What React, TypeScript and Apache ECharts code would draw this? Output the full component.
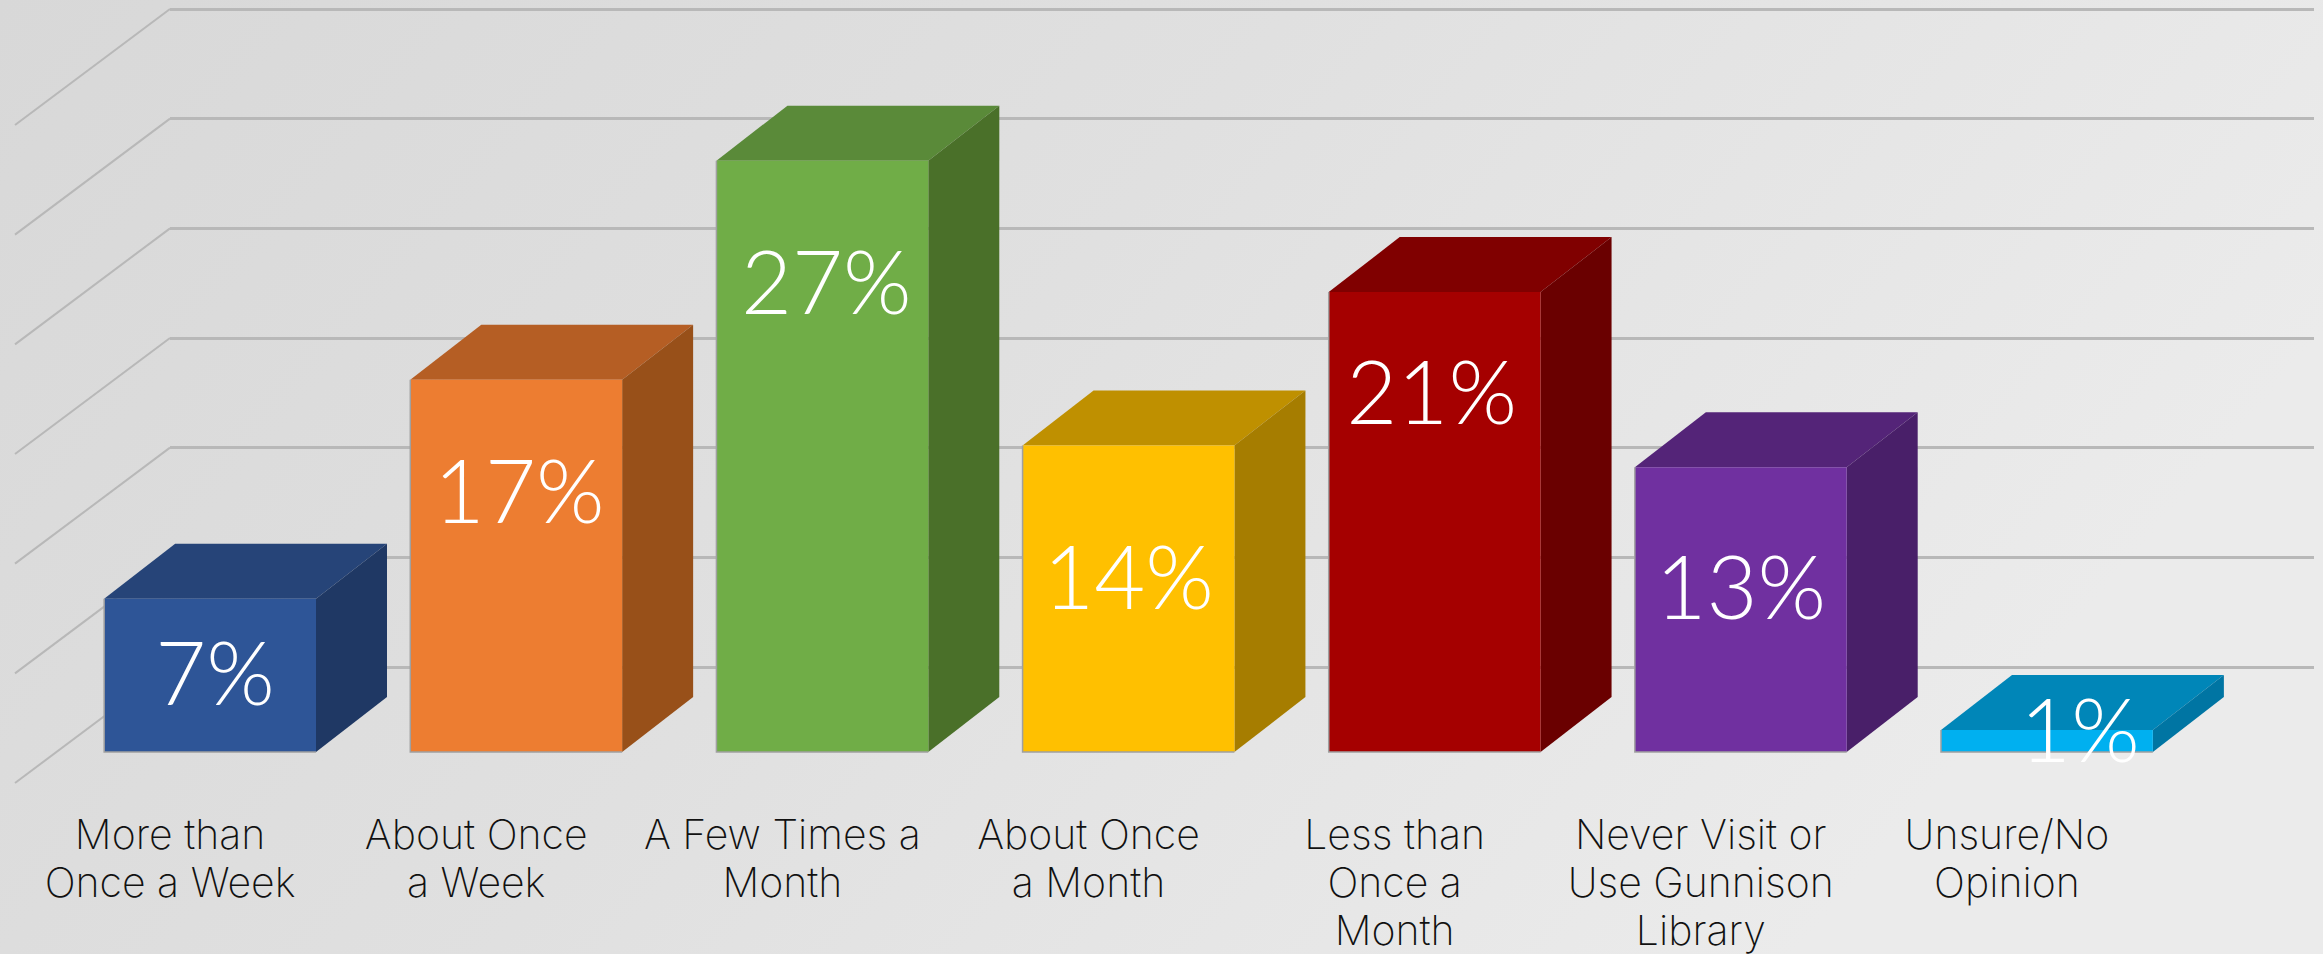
import React, { useEffect, useRef } from "react";
import * as echarts from "echarts";

const categories = [
  "More than\nOnce a Week",
  "About Once\na Week",
  "A Few Times a\nMonth",
  "About Once\na Month",
  "Less than\nOnce a\nMonth",
  "Never Visit or\nUse Gunnison\nLibrary",
  "Unsure/No\nOpinion",
];
const values = [7, 17, 27, 14, 21, 13, 1];
const wallTicks = [0, 5, 10, 15, 20, 25, 30];

const frontColors = ["#2e5597", "#ed7d31", "#70ad47", "#ffc000", "#a50000", "#7030a0", "#00b0f0"];
const topColors = ["#264478", "#b55e24", "#5a8a39", "#bf9000", "#800000", "#542478", "#0086b8"];
const sideColors = ["#1f3864", "#985019", "#4a7029", "#a67d00", "#6a0000", "#491f69", "#0075a3"];

// Label placement: px below the bar's top, and px right of the front face's centre.
const labelDrop = [72, 109, 119, 130, 98, 118, -2];
const labelShift = [5, 3, 4, 0, -3, 0, 33];

const FONT = "Lato";
const AXIS_FONT = "Inter";
const DEPTH_X = 71;
const DEPTH_Y = 55;
const FACE_SHIFT = 40;
const WALL_DX = 155;
const WALL_DY = 116;

export default function App() {
  const ref = useRef<HTMLDivElement>(null);
  useEffect(() => {
    document.body.style.margin = "0";
    const chart = echarts.init(ref.current!, undefined, { renderer: "svg" });
    chart.setOption({
      animation: false,
      backgroundColor: {
        type: "linear",
        x: 0,
        y: 0,
        x2: 1,
        y2: 0.35,
        colorStops: [
          { offset: 0, color: "#d8d8d8" },
          { offset: 0.5, color: "#e0e0e0" },
          { offset: 1, color: "#ebebeb" },
        ],
      },
      grid: [
        { left: 170, top: 9, width: 2144, height: 658 },
        { left: 17, top: 95, width: 2143, height: 658 },
      ],
      xAxis: [
        { gridIndex: 0, type: "value", min: 0, max: 1, show: false },
        {
          gridIndex: 1,
          type: "category",
          data: categories,
          axisLine: { show: false },
          axisTick: { show: false },
          axisLabel: {
            interval: 0,
            margin: 58,
            color: "#111111",
            fontFamily: AXIS_FONT,
            fontWeight: 200,
            fontSize: 41,
            lineHeight: 48,
            verticalAlign: "top",
          },
        },
      ],
      yAxis: [
        {
          gridIndex: 0,
          type: "value",
          min: 0,
          max: 30,
          interval: 5,
          axisLine: { show: false },
          axisTick: { show: false },
          axisLabel: { show: false },
          splitLine: { show: true, lineStyle: { color: "#b8b8b8", width: 3 } },
        },
        {
          gridIndex: 1,
          type: "value",
          min: 0,
          max: 30,
          interval: 5,
          show: false,
          splitLine: { show: false },
        },
      ],
      series: [
        {
          type: "custom",
          xAxisIndex: 0,
          yAxisIndex: 0,
          clip: false,
          silent: true,
          z: 1,
          data: wallTicks.map((t) => [0, t]),
          encode: { x: 0, y: 1 },
          renderItem: (_p: any, api: any) => {
            const [x, y] = api.coord([0, api.value(1)]);
            return {
              type: "line",
              shape: { x1: x, y1: y, x2: x - WALL_DX, y2: y + WALL_DY },
              style: { stroke: "#b8b8b8", lineWidth: 2 },
            };
          },
        },
        {
          type: "custom",
          xAxisIndex: 1,
          yAxisIndex: 1,
          clip: false,
          z: 5,
          data: values.map((v, i) => [i, v]),
          encode: { x: 0, y: 1 },
          renderItem: (params: any, api: any) => {
            const i = params.dataIndex;
            const v = api.value(1);
            const [cx, top] = api.coord([i, v]);
            const [, bottom] = api.coord([i, 0]);
            const w = api.size([1, 0])[0] * 0.692;
            const l = cx + FACE_SHIFT - w / 2;
            const r = l + w;
            return {
              type: "group",
              children: [
                {
                  type: "polygon",
                  shape: {
                    points: [
                      [l, top],
                      [r, top],
                      [r + DEPTH_X, top - DEPTH_Y],
                      [l + DEPTH_X, top - DEPTH_Y],
                    ],
                  },
                  style: { fill: topColors[i] },
                },
                {
                  type: "polygon",
                  shape: {
                    points: [
                      [r, top],
                      [r + DEPTH_X, top - DEPTH_Y],
                      [r + DEPTH_X, bottom - DEPTH_Y],
                      [r, bottom],
                    ],
                  },
                  style: { fill: sideColors[i] },
                },
                {
                  type: "rect",
                  shape: { x: l, y: top, width: w, height: bottom - top },
                  style: { fill: frontColors[i] },
                },
                {
                  type: "polyline",
                  shape: {
                    points: [
                      [l, top],
                      [l, bottom],
                      [r, bottom],
                    ],
                  },
                  style: { fill: "none", stroke: "#a0a0a0", lineWidth: 1.5 },
                },
                {
                  type: "text",
                  style: {
                    text: `${v}%`,
                    x: l + w / 2 + labelShift[i],
                    y: top + labelDrop[i],
                    fill: "#ffffff",
                    fontFamily: FONT,
                    fontWeight: 300,
                    fontSize: 88,
                    align: "center",
                    verticalAlign: "middle",
                  },
                },
              ],
            };
          },
        },
      ],
    });
    return () => chart.dispose();
  }, []);
  return <div ref={ref} style={{ width: 2323, height: 954 }} />;
}
